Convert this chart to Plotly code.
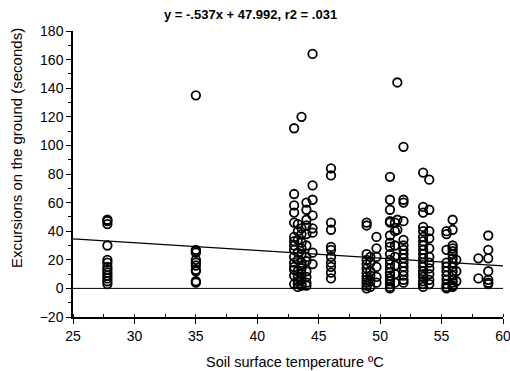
import plotly.graph_objects as go

# Column temperatures (ºC) and excursion durations (s)
temps = [27.8, 35.0, 43.0, 43.3, 43.6, 44.0, 44.5, 46.0, 48.9, 49.2, 49.7,
         50.8, 51.2, 51.4, 51.9, 53.5, 54.0, 55.4, 55.9, 56.2, 58.0, 58.8]

ex_27_8 = [48, 47, 45, 30, 20, 18, 15, 13, 11, 9, 7, 5, 3]
ex_35_0 = [135, 27, 26, 25, 20, 18, 16, 13, 12, 5, 4]
ex_43_0 = [112, 66, 58, 53, 46, 36, 33, 30, 27, 22, 18, 15, 13, 9, 3]
ex_43_3 = [45, 40, 34, 25, 20, 12, 8, 5, 3, 1]
ex_43_6 = [120, 42, 38, 32, 28, 24, 18, 16, 14, 10, 6, 3, 2]
ex_44_0 = [60, 55, 48, 44, 38, 30, 22, 19, 12, 8, 4, 2]
ex_44_5 = [164, 72, 62, 51, 42, 39, 25, 17]
ex_46_0 = [84, 79, 46, 41, 29, 27, 22, 18, 15, 11, 7]
ex_48_9 = [46, 44, 24, 20, 17, 14, 11, 8, 6, 4, 2, 0]
ex_49_2 = [22, 18, 12, 9, 5, 1]
ex_49_7 = [36, 28, 22, 15, 8, 4]
ex_50_8 = [78, 62, 55, 47, 46, 37, 32, 29, 24, 20, 17, 14, 11, 9, 7, 5, 3, 1, 0]
ex_51_2 = [46, 40, 30, 22, 16, 10, 4]
ex_51_4 = [144, 48, 41]
ex_51_9 = [99, 62, 60, 47, 34, 30, 27, 24, 21, 18, 15, 12, 9, 6, 4]
ex_53_5 = [81, 57, 53, 43, 40, 36, 33, 30, 27, 24, 21, 18, 15, 12, 10, 8, 5, 3, 1]
ex_54_0 = [76, 55, 40, 35, 28, 22, 18, 14, 10, 6, 3]
ex_55_4 = [40, 38, 27, 18, 15, 12, 9, 6, 3, 1, 0]
ex_55_9 = [48, 41, 30, 28, 26, 24, 21, 18, 15, 12, 9, 6, 4, 2, 1]
ex_56_2 = [20, 12, 5]
ex_58_0 = [21, 7]
ex_58_8 = [37, 27, 21, 12, 6, 4, 3]

columns = [ex_27_8, ex_35_0, ex_43_0, ex_43_3, ex_43_6, ex_44_0, ex_44_5, ex_46_0,
           ex_48_9, ex_49_2, ex_49_7, ex_50_8, ex_51_2, ex_51_4, ex_51_9, ex_53_5,
           ex_54_0, ex_55_4, ex_55_9, ex_56_2, ex_58_0, ex_58_8]

# Regression from the chart title
slope = -0.537
intercept = 47.992
line_x = [25, 60]

xs, ys = [], []
for t, col in zip(temps, columns):
    for v in col:
        xs.append(t)
        ys.append(v)

fig = go.Figure()
fig.add_trace(go.Scatter(
    x=line_x, y=[0, 0], mode="lines",
    line=dict(color="black", width=1), hoverinfo="skip"))
fig.add_trace(go.Scatter(
    x=line_x, y=[slope * v + intercept for v in line_x], mode="lines",
    line=dict(color="black", width=1.2), hoverinfo="skip"))
fig.add_trace(go.Scatter(
    x=xs, y=ys, mode="markers",
    marker=dict(symbol="circle-open", size=8.5, color="black",
                line=dict(color="black", width=1.8))))

font = "Liberation Sans, Arial, Helvetica, sans-serif"
fig.update_layout(
    width=510, height=371,
    margin=dict(l=73, r=7, t=31, b=54),
    paper_bgcolor="white", plot_bgcolor="white",
    showlegend=False,
    font=dict(family=font, size=14, color="black"),
    xaxis=dict(range=[25, 60], tick0=25, dtick=5, showgrid=False, zeroline=False,
               showline=True, linecolor="black", linewidth=1.5,
               ticks="outside", ticklen=5, tickwidth=1.2, tickcolor="black",
               minor=dict(ticks="inside", ticklen=3, dtick=2.5, tickcolor="black"),
               tickfont=dict(size=14), ticklabeloverflow="allow", automargin=False),
    yaxis=dict(range=[-20, 180], tick0=-20, dtick=20, showgrid=False, zeroline=False,
               showline=True, linecolor="black", linewidth=1.5,
               ticks="outside", ticklen=5, tickwidth=1.2, tickcolor="black",
               minor=dict(ticks="outside", ticklen=3, dtick=10, tickcolor="black"),
               tickfont=dict(size=14), ticklabeloverflow="allow", automargin=False),
    annotations=[
        dict(text="<b>y = -.537x + 47.992, r2 = .031</b>", xref="paper", yref="paper",
             x=(250 - 73) / 430, y=1 + (31 - 14) / 286, xanchor="center", yanchor="middle",
             showarrow=False, font=dict(size=13)),
        dict(text="Soil surface temperature ºC", xref="paper", yref="paper",
             x=(295 - 73) / 430, y=-(362 - 317) / 286, xanchor="center", yanchor="middle",
             showarrow=False, font=dict(size=14.5)),
        dict(text="Excursions on the ground (seconds)", xref="paper", yref="paper",
             x=-(73 - 16) / 430, y=(317 - 148) / 286, xanchor="center", yanchor="middle",
             textangle=-90, showarrow=False, font=dict(size=15)),
    ],
)

fig.write_html("out.html")
